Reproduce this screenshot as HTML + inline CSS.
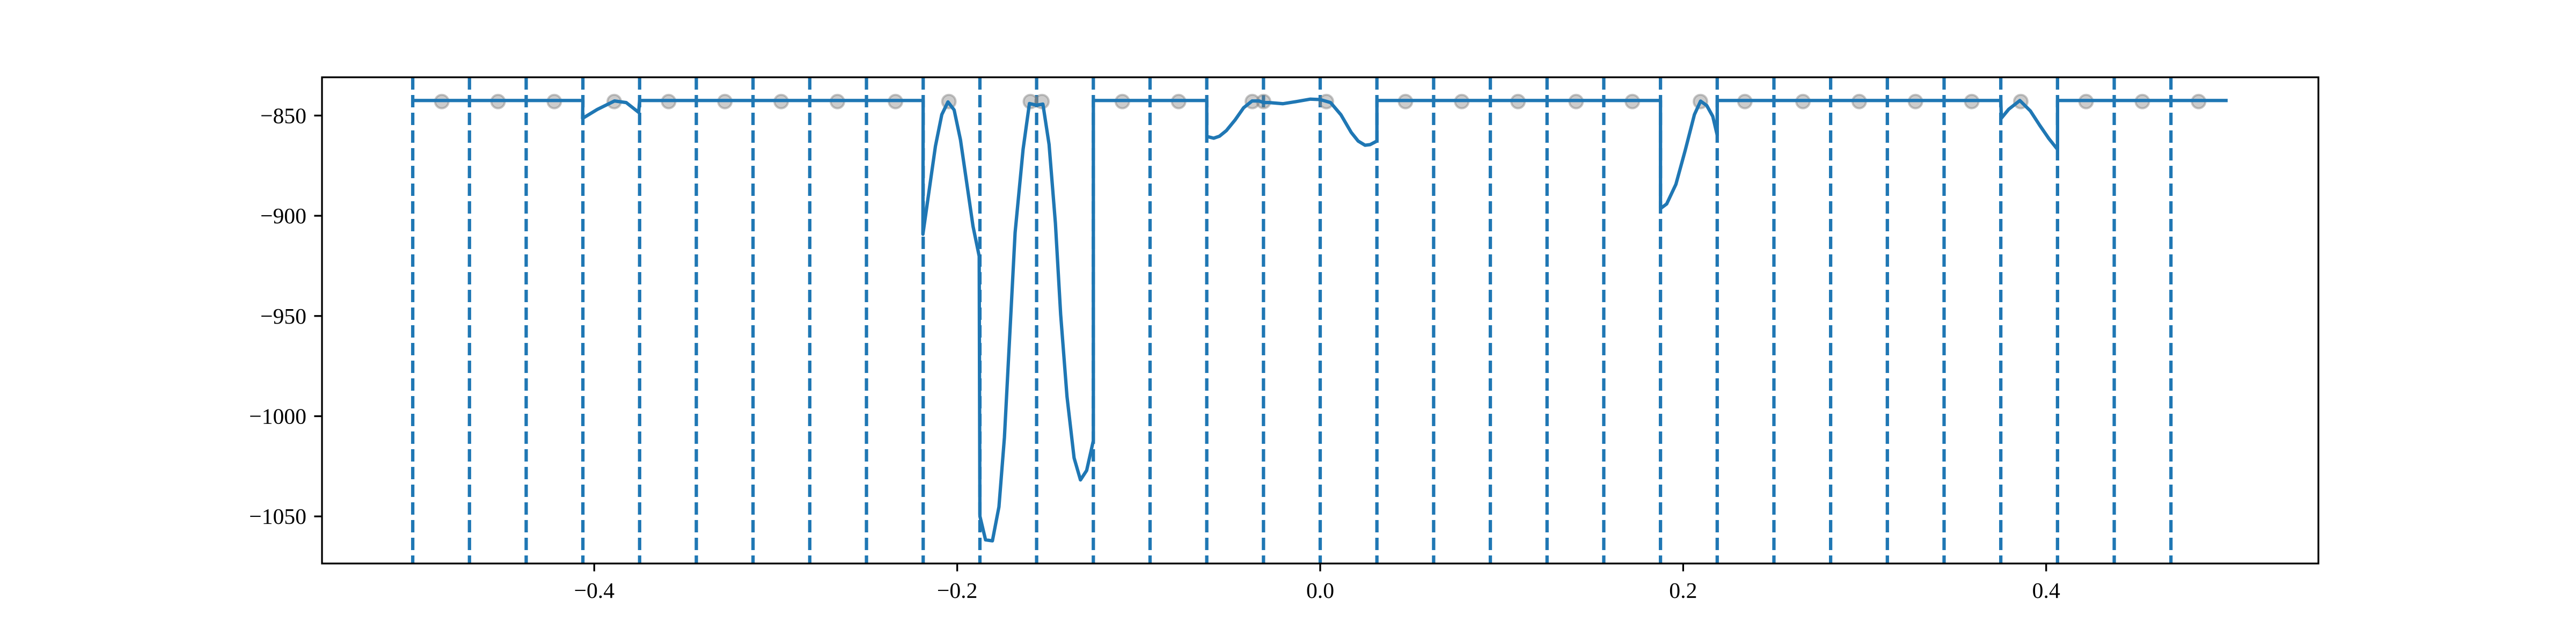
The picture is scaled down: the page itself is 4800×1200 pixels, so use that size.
<!DOCTYPE html>
<html><head><meta charset="utf-8"><style>
html,body{margin:0;padding:0;background:#fff;}
svg{display:block;}
text{font-family:"Liberation Serif","DejaVu Serif",serif;font-size:41.7px;fill:#000;}
</style></head><body>
<svg id="chart" width="4800" height="1200" xmlns="http://www.w3.org/2000/svg">
<rect width="4800" height="1200" fill="#fff"/>
<g id="vlines"></g>
<g id="dots"></g>
<g id="series"></g>
<g id="axes"></g>
</svg>
<script>
const lineX = [-0.5,-0.40625,
 -0.4064,-0.3984,-0.3888,-0.3824,-0.3755,
 -0.375,-0.21875,
 -0.2189,-0.212,-0.2085,-0.2051,-0.2017,-0.1982,-0.1948,-0.1913,-0.1879,
 -0.1875,-0.1844,-0.1806,-0.177,-0.174,-0.1711,-0.1681,-0.1637,-0.1602,-0.1563,
 -0.1528,-0.1494,-0.1459,-0.143,-0.1395,-0.1356,-0.1321,-0.1287,-0.125,
 -0.125,-0.0625,
 -0.0625,-0.0587,-0.0555,-0.0517,-0.047,-0.0422,-0.0375,-0.0337,-0.03125,
 -0.0281,-0.0206,-0.013,-0.0054,0,
 0.0057,0.0114,0.0171,0.0209,0.0247,0.0275,0.03125,
 0.03125,0.1875,
 0.1875,0.1909,0.196,0.2011,0.2062,0.2096,0.213,0.2163,0.21875,
 0.21875,0.375,
 0.3753,0.3794,0.3855,0.3913,0.3964,0.4015,0.40625,
 0.40625,0.5];
const lineY = [-842.5,-842.5,
 -851.4,-847,-842.7,-843.5,-848.4,
 -842.5,-842.5,
 -909.2,-865.2,-849.5,-843.2,-847.2,-862.1,-883.3,-905.3,-920.2,
 -1049.9,-1061.7,-1062.2,-1045.2,-1010.6,-960.3,-908.4,-866.8,-844.0,-844.8,
 -844.3,-864.4,-903.7,-949.3,-990.2,-1020.8,-1031.8,-1027.1,-1012.2,
 -842.5,-842.5,
 -860.4,-861.3,-860.3,-857.5,-852.3,-846.1,-842.7,-842.7,-843.5,
 -843.5,-844.1,-843,-841.8,-842,
 -843.5,-849.6,-858.4,-862.7,-864.8,-864.5,-862.7,
 -842.5,-842.5,
 -896.4,-894.1,-884.3,-867.4,-849.5,-842.8,-845,-850.4,-859.8,
 -842.5,-842.5,
 -851.3,-846.8,-842.5,-847.7,-854.8,-861.5,-866.9,
 -842.5,-842.5];
const boundaryX = [-0.5,-0.46875,-0.4375,-0.40625,-0.375,-0.34375,-0.3125,-0.28125,-0.25,-0.21875,-0.1875,-0.15625,-0.125,-0.09375,-0.0625,-0.03125,0,0.03125,0.0625,0.09375,0.125,0.15625,0.1875,0.21875,0.25,0.28125,0.3125,0.34375,0.375,0.40625,0.4375,0.46875];
const dotX = [-0.484,-0.453,-0.422,-0.389,-0.359,-0.328,-0.297,-0.266,-0.234,-0.2046,-0.1597,-0.1533,-0.109,-0.078,-0.0374,-0.0312,0.0034,0.047,0.078,0.109,0.141,0.172,0.2095,0.234,0.266,0.297,0.328,0.359,0.386,0.422,0.453,0.484];
const dotY = [-843,-843,-843,-843,-843,-843,-843,-843,-843,-843,-843,-843,-843,-843,-843,-843,-843,-843,-843,-843,-843,-843,-843,-843,-843,-843,-843,-843,-843,-843,-843,-843];
const xTicks = [-0.4,-0.2,0.0,0.2,0.4];
const xTickLabels = ["\u22120.4","\u22120.2","0.0","0.2","0.4"];
const yTicks = [-850,-900,-950,-1000,-1050];
const yTickLabels = ["\u2212850","\u2212900","\u2212950","\u22121000","\u22121050"];

const NS="http://www.w3.org/2000/svg";
const L=600,R=4320,T=144,B=1050;
const X0=-0.55,X1=0.55,Y0=-1073.5,Y1=-830.9;
function sx(v){return L+(v-X0)/(X1-X0)*(R-L);}
function sy(v){return B-(v-Y0)/(Y1-Y0)*(B-T);}
function mk(tag,attrs,parent){const e=document.createElementNS(NS,tag);for(const k in attrs)e.setAttribute(k,attrs[k]);parent.appendChild(e);return e;}
const C="#1f77b4";
const gv=document.getElementById('vlines');
boundaryX.forEach((b,i)=>{
  const e=mk('line',{x1:sx(b),x2:sx(b),y1:T,y2:B,stroke:C,'stroke-width':6.25,'stroke-dasharray':'23 10'},gv);
  
  
});
const gd=document.getElementById('dots');
dotX.forEach((d,i)=>{
  const e=mk('circle',{cx:sx(d),cy:sy(dotY[i]),r:12.5,fill:'rgba(128,128,128,0.4)',stroke:'rgba(128,128,128,0.45)','stroke-width':4},gd);
  
  
});
const gs=document.getElementById('series');
const pts=lineX.map((x,i)=>sx(x).toFixed(1)+','+sy(lineY[i]).toFixed(1)).join(' ');
const pl=mk('polyline',{points:pts,fill:'none',stroke:C,'stroke-width':6.25,'stroke-linejoin':'round'},gs);


const ga=document.getElementById('axes');
const fr=mk('rect',{x:L,y:T,width:R-L,height:B-T,fill:'none',stroke:'#000','stroke-width':3.3},ga);


xTicks.forEach((t,i)=>{
  const x=sx(t);
  const tk=mk('line',{x1:x,x2:x,y1:B,y2:B+14.6,stroke:'#000','stroke-width':3.3},ga);
  
  
  const tx=mk('text',{x:x,y:B+64,'text-anchor':'middle'},ga);
  tx.textContent=xTickLabels[i];
  
  
});
yTicks.forEach((t,i)=>{
  const y=sy(t);
  const tk=mk('line',{x1:L-14.6,x2:L,y1:y,y2:y,stroke:'#000','stroke-width':3.3},ga);
  
  
  const tx=mk('text',{x:L-29,y:y+14,'text-anchor':'end'},ga);
  tx.textContent=yTickLabels[i];
  
  
});
</script>
</body></html>
